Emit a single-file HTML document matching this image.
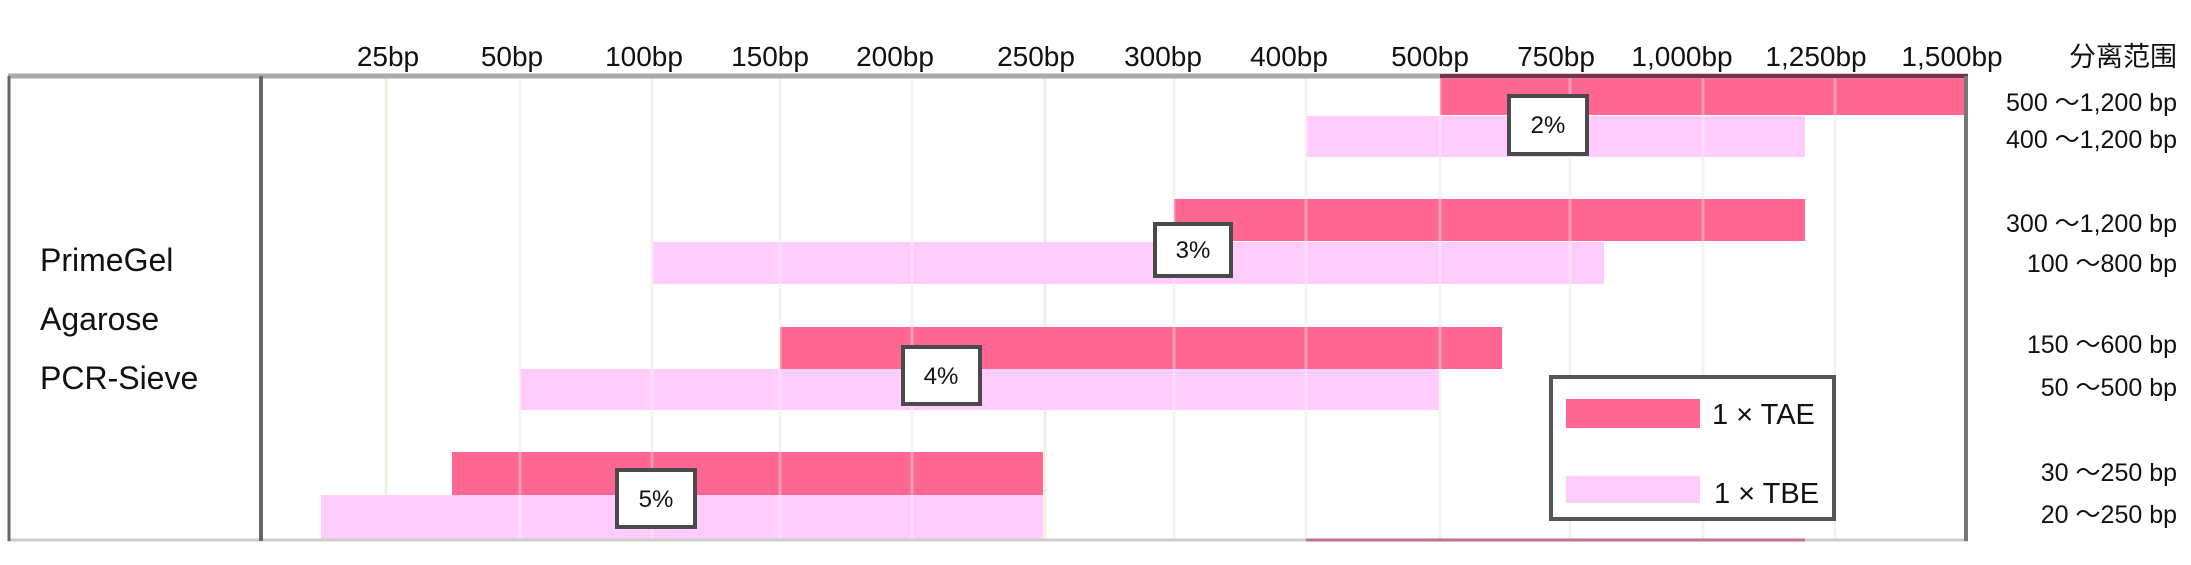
<!DOCTYPE html>
<html><head><meta charset="utf-8"><style>
html,body{margin:0;padding:0;background:#fff;}
svg{display:block;}
text{font-family:"Liberation Sans","Noto Sans CJK SC",sans-serif;fill:#111;}
</style></head><body>
<svg width="2191" height="565" viewBox="0 0 2191 565" xmlns="http://www.w3.org/2000/svg">
<rect width="2191" height="565" fill="#fff"/>
<g font-size="28" text-anchor="middle">
<text x="388" y="66">25bp</text>
<text x="512" y="66">50bp</text>
<text x="644" y="66">100bp</text>
<text x="770" y="66">150bp</text>
<text x="895" y="66">200bp</text>
<text x="1036" y="66">250bp</text>
<text x="1163" y="66">300bp</text>
<text x="1289" y="66">400bp</text>
<text x="1430" y="66">500bp</text>
<text x="1556" y="66">750bp</text>
<text x="1682" y="66">1,000bp</text>
<text x="1816" y="66">1,250bp</text>
<text x="1952" y="66">1,500bp</text>
</g>
<text x="2177" y="66" font-size="27" text-anchor="end">分离范围</text>
<g stroke="#efefe6" stroke-width="3">
<line x1="386" y1="78" x2="386" y2="540"/><line x1="520" y1="78" x2="520" y2="540"/>
<line x1="652" y1="78" x2="652" y2="540"/><line x1="780" y1="78" x2="780" y2="540"/>
<line x1="912" y1="78" x2="912" y2="540"/><line x1="1045" y1="78" x2="1045" y2="540"/>
<line x1="1174" y1="78" x2="1174" y2="540"/><line x1="1306" y1="78" x2="1306" y2="540"/>
<line x1="1440" y1="78" x2="1440" y2="540"/><line x1="1570" y1="78" x2="1570" y2="540"/>
<line x1="1703" y1="78" x2="1703" y2="540"/><line x1="1835" y1="78" x2="1835" y2="540"/>
</g>
<g fill="#ff6692">
<rect x="1440" y="75" width="526" height="40"/>
<rect x="1174" y="199" width="631" height="42"/>
<rect x="780" y="327" width="722" height="42"/>
<rect x="452" y="452" width="591" height="43"/>
</g>
<g fill="#ffccfc">
<rect x="1306" y="116" width="499" height="41"/>
<rect x="652" y="242" width="952" height="42"/>
<rect x="520" y="369" width="919" height="41"/>
<rect x="321" y="495" width="722" height="44"/>
</g>
<g stroke="#ffffff" stroke-opacity="0.35" stroke-width="3">
<line x1="520" y1="78" x2="520" y2="540"/><line x1="652" y1="78" x2="652" y2="540"/><line x1="780" y1="78" x2="780" y2="540"/>
<line x1="912" y1="78" x2="912" y2="540"/><line x1="1174" y1="78" x2="1174" y2="540"/><line x1="1306" y1="78" x2="1306" y2="540"/>
<line x1="1440" y1="78" x2="1440" y2="540"/><line x1="1570" y1="78" x2="1570" y2="540"/><line x1="1703" y1="78" x2="1703" y2="540"/><line x1="1835" y1="78" x2="1835" y2="540"/>
</g>
<line x1="8" y1="76" x2="1968" y2="76" stroke="#aaa" stroke-width="5"/>
<line x1="1440" y1="76" x2="1968" y2="76" stroke="#7a3048" stroke-width="4"/>
<line x1="8" y1="540" x2="1968" y2="540" stroke="#ccc" stroke-width="3"/>
<line x1="1306" y1="540" x2="1805" y2="540" stroke="#c07090" stroke-width="3"/>
<line x1="9" y1="76" x2="9" y2="541" stroke="#666" stroke-width="3"/>
<line x1="261" y1="76" x2="261" y2="541" stroke="#666" stroke-width="4"/>
<line x1="1966" y1="76" x2="1966" y2="541" stroke="#777" stroke-width="4"/>
<g font-size="32">
<text x="40" y="271">PrimeGel</text>
<text x="40" y="330">Agarose</text>
<text x="40" y="389">PCR-Sieve</text>
</g>
<g fill="#fff" stroke="#4a4a4a" stroke-width="4">
<rect x="1509" y="96" width="78" height="58"/>
<rect x="1155" y="224" width="76" height="52"/>
<rect x="903" y="347" width="77" height="57"/>
<rect x="617" y="470" width="78" height="57"/>
</g>
<g font-size="24" text-anchor="middle">
<text x="1548" y="133">2%</text>
<text x="1193" y="258">3%</text>
<text x="941" y="384">4%</text>
<text x="656" y="507">5%</text>
</g>
<g font-size="25" text-anchor="end">
<text x="2177" y="111">500 ～1,200 bp</text>
<text x="2177" y="148">400 ～1,200 bp</text>
<text x="2177" y="232">300 ～1,200 bp</text>
<text x="2177" y="272">100 ～800 bp</text>
<text x="2177" y="353">150 ～600 bp</text>
<text x="2177" y="396">50 ～500 bp</text>
<text x="2177" y="481">30 ～250 bp</text>
<text x="2177" y="523">20 ～250 bp</text>
</g>
<rect x="1551" y="377" width="283" height="142" fill="#fff" stroke="#555" stroke-width="4"/>
<rect x="1566" y="399" width="134" height="29" fill="#ff6692"/>
<rect x="1566" y="476" width="134" height="27" fill="#ffccfc"/>
<text x="1712" y="424" font-size="29">1 × TAE</text>
<text x="1714" y="503" font-size="29">1 × TBE</text>
</svg>
</body></html>
